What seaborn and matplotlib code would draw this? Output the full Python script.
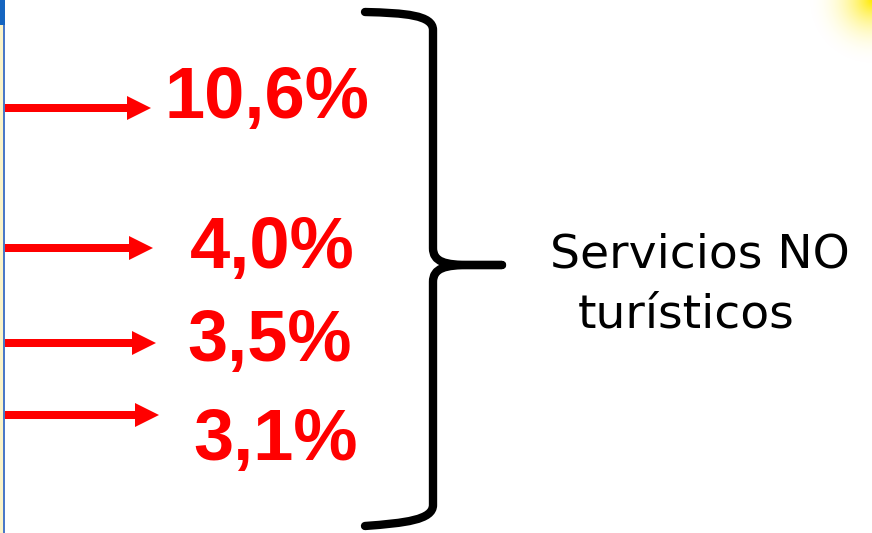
#!/usr/bin/env python3
"""Slide fragment: growth rates pointing to 'Servicios NO turísticos'."""

import matplotlib

matplotlib.use("Agg")
import matplotlib.pyplot as plt
import numpy as np
import seaborn as sns
from matplotlib.patches import PathPatch, Rectangle
from matplotlib.path import Path

# Data
values = [10.6, 4.0, 3.5, 3.1]
labels = [f"{v:.1f}%".replace(".", ",") for v in values]
group_label = "Servicios NO\nturísticos"

# Layout (pixel space, y grows downward)
W, H = 872, 533
arrow_rows = [108, 248, 343, 415]
arrow_tips = [151, 153, 156, 159]
label_x = [267, 272, 270, 276]
label_base = [118, 268, 361, 460]

sns.set_theme(style="white")
plt.rcParams["font.family"] = ["DejaVu Sans"]

fig = plt.figure(figsize=(W / 100, H / 100), dpi=100)
ax = fig.add_axes([0, 0, 1, 1])
ax.set_xlim(0, W)
ax.set_ylim(H, 0)
ax.set_aspect("equal")
ax.axis("off")

# soft yellow glow in top-right corner
gy, gx = np.mgrid[0:70, 0:70]
dist = np.hypot(gx - 70, gy) / 70.0
alpha = np.clip(1.0 - dist, 0, 1) ** 2.5
glow = np.zeros((70, 70, 4))
glow[..., 0] = 1.0
glow[..., 1] = 0.92
glow[..., 2] = 0.0
glow[..., 3] = alpha
ax.imshow(glow, extent=(W - 70, W, 70, 0), zorder=0, interpolation="bilinear")

# left slide edge
ax.add_patch(Rectangle((0, 0), 3, H, color="#fbf3c8", zorder=1, lw=0))
ax.add_patch(Rectangle((3, 0), 2, H, color="#4a78c8", zorder=1, lw=0))
ax.add_patch(Rectangle((0, 0), 5, 25, color="#1565c0", zorder=2, lw=0))

# arrows + percentages
for y, tip, lab, tx, tb in zip(arrow_rows, arrow_tips, labels, label_x, label_base):
    ax.arrow(
        5, y, tip - 5, 0,
        width=8, head_width=24, head_length=24,
        length_includes_head=True, color="#ff0000", lw=0, zorder=3,
    )
    ax.text(
        tx, tb, lab, ha="center", va="baseline",
        fontsize=52, fontweight="bold", color="#ff0000",
        family="Liberation Sans",
    )

# curly brace
C, L = Path.CURVE4, Path.LINETO
upper = Path(
    [(365, 12), (405, 13), (433, 15), (433, 30), (433, 248),
     (433, 262), (445, 265), (470, 265), (502, 265)],
    [Path.MOVETO, C, C, C, L, C, C, C, L],
)
lower = Path(
    [(502, 265), (470, 265), (445, 265), (433, 268), (433, 282),
     (433, 505), (433, 520), (405, 523), (365, 526)],
    [Path.MOVETO, L, C, C, C, L, C, C, C],
)
for p in (upper, lower):
    ax.add_patch(
        PathPatch(p, fill=False, lw=6, edgecolor="black",
                  capstyle="round", joinstyle="round", zorder=3)
    )

line1, line2 = group_label.split("\n")
ax.text(700, 267, line1, ha="center", va="baseline", fontsize=34, color="black")
ax.text(686, 328, line2, ha="center", va="baseline", fontsize=34, color="black")

fig.savefig("out.png", dpi=100, facecolor="white")
plt.close(fig)
